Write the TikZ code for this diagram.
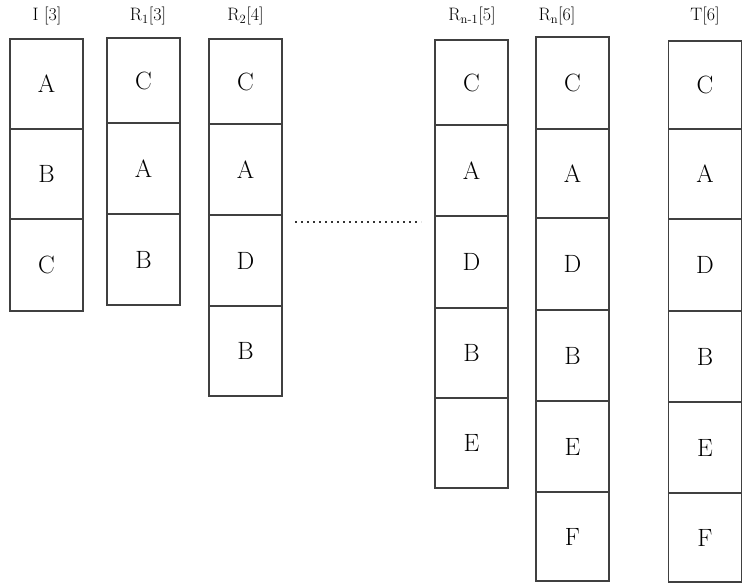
\documentclass[tikz,border=0pt]{standalone}
\usepackage{fontspec}
\begin{document}
\begin{tikzpicture}[x=1pt,y=-1pt,
  cell/.style={draw=black!75, line width=1.1pt, minimum width=73pt, inner sep=0pt, font=\fontsize{25}{27}\selectfont},
  head/.style={anchor=base, inner sep=0pt, font=\fontsize{18}{20}\selectfont},
  dots/.style={line width=1.6pt, dash pattern=on 1.6pt off 4.4pt, black!80}]
\useasboundingbox (0,0) rectangle (743,586);
% column I
\foreach \t/\b/\l [count=\i] in {39/129/A,129/219/B,219/311/C}{
  \pgfmathsetmacro\h{\b-\t}
  \node[cell, minimum height=\h pt] (I\i) at (46.5,{(\t+\b)/2}) {\l};}
% column R1
\foreach \t/\b/\l [count=\i] in {38/123/C,123/214/A,214/305/B}{
  \pgfmathsetmacro\h{\b-\t}
  \node[cell, minimum height=\h pt] (Ra\i) at (143.5,{(\t+\b)/2}) {\l};}
% column R2
\foreach \t/\b/\l [count=\i] in {39/124/C,124/215/A,215/306/D,306/396/B}{
  \pgfmathsetmacro\h{\b-\t}
  \node[cell, minimum height=\h pt] (Rb\i) at (245.5,{(\t+\b)/2}) {\l};}
% column Rn-1
\foreach \t/\b/\l [count=\i] in {40/125/C,125/216/A,216/308/D,308/398/B,398/488/E}{
  \pgfmathsetmacro\h{\b-\t}
  \node[cell, minimum height=\h pt] (Rm\i) at (471.5,{(\t+\b)/2}) {\l};}
% column Rn
\foreach \t/\b/\l [count=\i] in {37/129/C,129/218/A,218/310/D,310/401/B,401/492/E,492/581/F}{
  \pgfmathsetmacro\h{\b-\t}
  \node[cell, minimum height=\h pt] (Rn\i) at (572.5,{(\t+\b)/2}) {\l};}
% column T
\foreach \t/\b/\l [count=\i] in {41/129/C,129/219/A,219/311/D,311/402/B,402/493/E,493/582/F}{
  \pgfmathsetmacro\h{\b-\t}
  \node[cell, minimum height=\h pt] (T\i) at (705,{(\t+\b)/2}) {\l};}
% headers
\node[head] (hI) at (47,21) {I [3]};
\node[head] (hRa) at (148,21) {R\textsubscript{1}[3]};
\node[head] (hRb) at (245.5,21) {R\textsubscript{2}[4]};
\node[head] (hRm) at (472,21) {R\textsubscript{n-1}[5]};
\node[head] (hRn) at (557,21) {R\textsubscript{n}[6]};
\node[head] (hT) at (705,21) {T[6]};
% dotted gap
\coordinate (d1) at (295,222);
\coordinate (d2) at (421,222);
\draw[dots] (d1) -- (d2);
\end{tikzpicture}
\end{document}
